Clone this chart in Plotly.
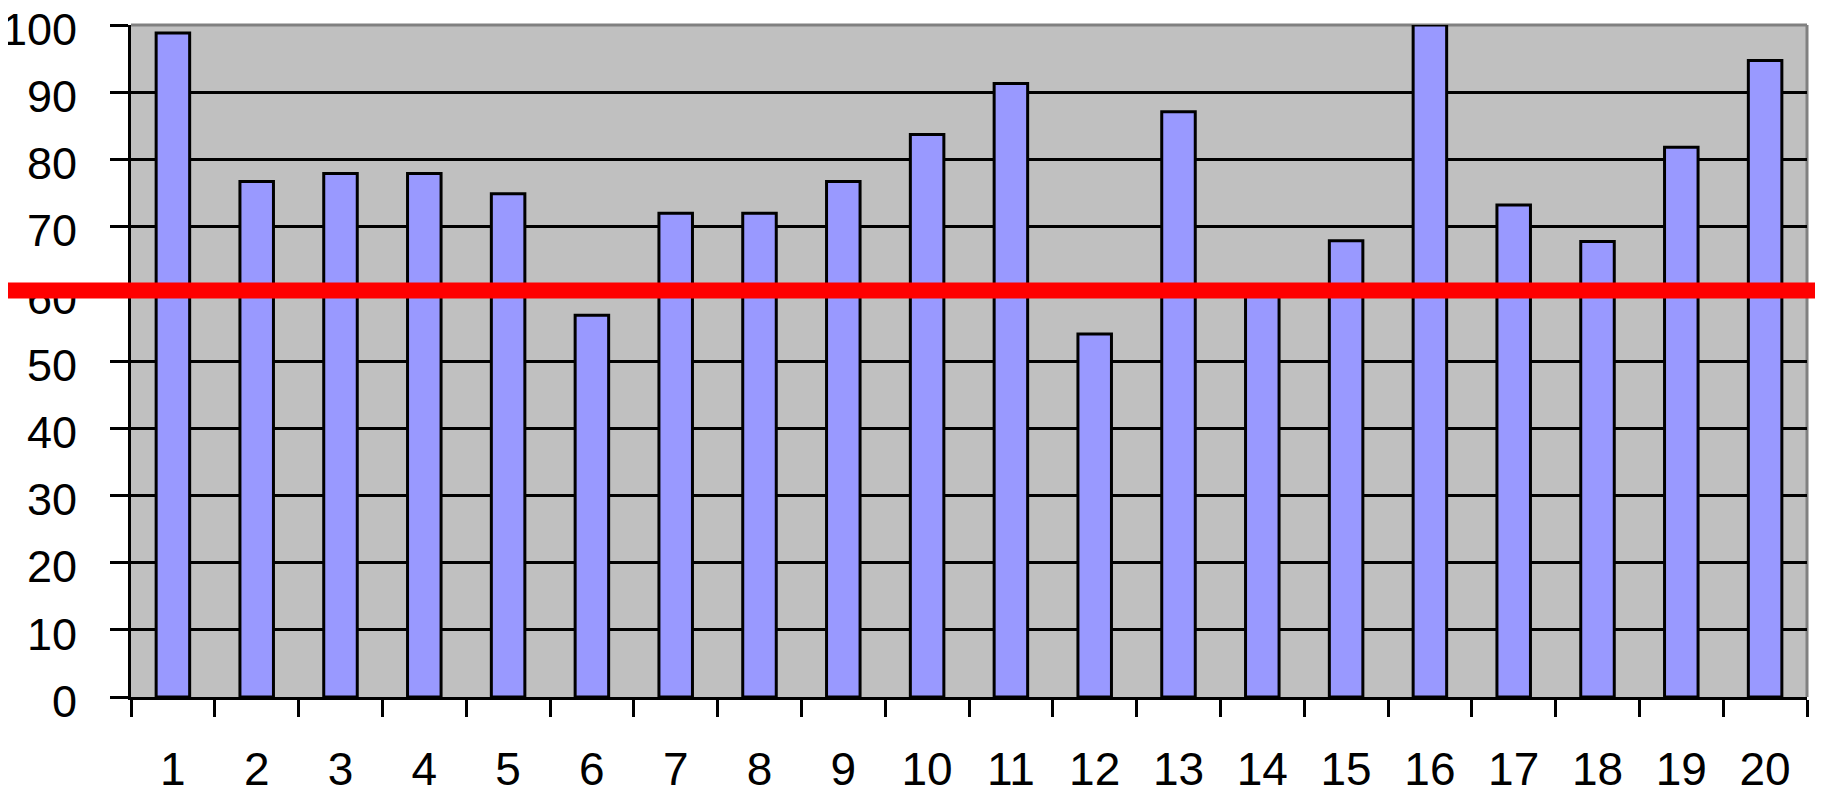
import plotly.graph_objects as go

categories = [str(i) for i in range(1, 21)]
values = [98.8, 76.7, 77.9, 77.9, 74.9, 56.8, 72.0, 72.0, 76.7, 83.7,
          91.3, 54.0, 87.1, 60.0, 67.9, 100.0, 73.2, 67.8, 81.8, 94.7]
threshold = 60.5
y_range = [0, 100]
y_ticks = list(range(0, 101, 10))

FONT = "Liberation Sans, Arial, sans-serif"
FS = 46

fig = go.Figure()
fig.add_trace(go.Bar(
    x=categories, y=values,
    marker=dict(color="#9999FF", line=dict(color="black", width=3)),
    hoverinfo="x+y",
))

thr_frac = (threshold - y_range[0]) / (y_range[1] - y_range[0])

fig.update_layout(
    width=1815, height=788,
    margin=dict(l=123, r=16, t=17, b=99, autoexpand=False),
    paper_bgcolor="white",
    plot_bgcolor="#C0C0C0",
    bargap=0.6,
    showlegend=False,
    font=dict(family=FONT, size=FS, color="black"),
    xaxis=dict(
        type="category",
        automargin=False,
        tickson="boundaries",
        ticks="outside", ticklen=17, tickwidth=3, tickcolor="black",
        showline=True, linecolor="black", linewidth=3,
        showgrid=False,
        ticklabelstandoff=30,
        ticklabeloverflow="allow",
        tickfont=dict(family=FONT, size=FS, color="black"),
    ),
    yaxis=dict(
        range=y_range,
        automargin=False,
        tickvals=y_ticks,
        ticks="outside", ticklen=18, tickwidth=3, tickcolor="black",
        showline=True, linecolor="black", linewidth=3,
        showgrid=True, gridcolor="black", gridwidth=3,
        zeroline=False,
        ticklabelstandoff=24,
        ticklabelshift=4,
        ticklabeloverflow="allow",
        tickfont=dict(family=FONT, size=45, color="black"),
    ),
    shapes=[
        dict(type="line", xref="paper", yref="paper", x0=0, x1=1, y0=1, y1=1,
             line=dict(color="#808080", width=3), layer="below"),
        dict(type="line", xref="paper", yref="paper", x0=1, x1=1, y0=0, y1=1,
             line=dict(color="#808080", width=3), layer="below"),
        dict(type="line", xref="paper", yref="y domain", x0=-0.1, x1=1.1,
             y0=thr_frac, y1=thr_frac,
             line=dict(color="#FF0000", width=16), layer="above"),
    ],
)

fig.write_html("out.html")
